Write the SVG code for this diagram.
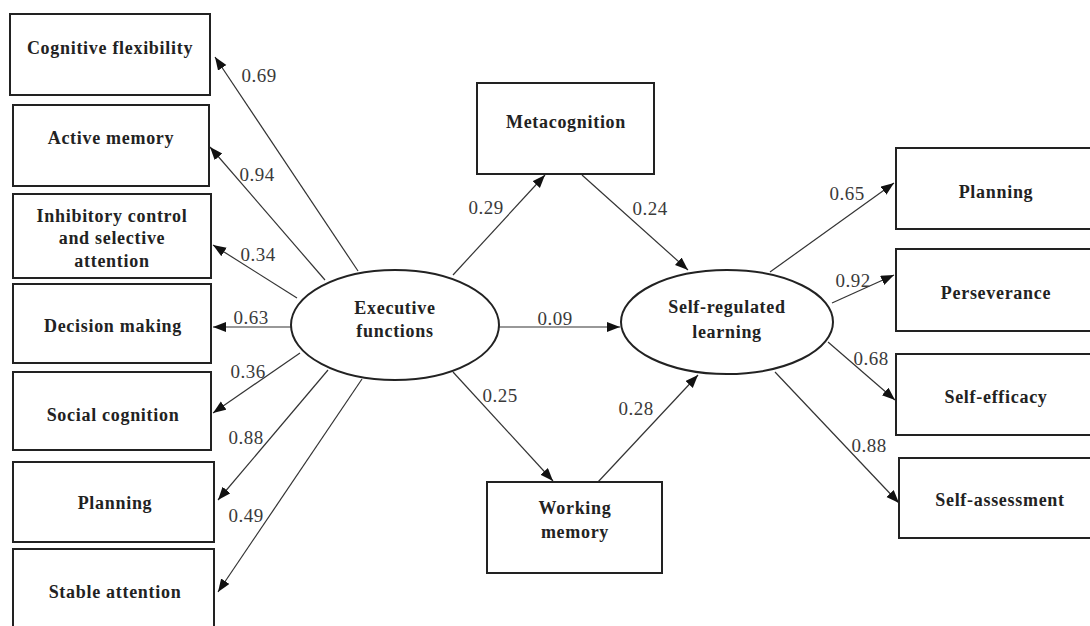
<svg xmlns="http://www.w3.org/2000/svg" width="1090" height="626" viewBox="0 0 1090 626">
<style>
.box{fill:#fff;stroke:#222;stroke-width:2}
.ell{fill:#fff;stroke:#222;stroke-width:2}
.t{font-family:"Liberation Serif","Times New Roman",serif;font-weight:bold;font-size:18px;letter-spacing:0.7px;fill:#222;text-anchor:middle}
.n{font-family:"Liberation Serif","Times New Roman",serif;font-size:19px;letter-spacing:0.5px;fill:#3a3a3a;text-anchor:middle}
.c{stroke:#333;stroke-width:1.2;fill:none;marker-end:url(#ah)}
</style>
<defs>
<marker id="ah" markerUnits="userSpaceOnUse" markerWidth="14" markerHeight="12" refX="13" refY="5" orient="auto">
<path d="M0,0 L13,5 L0,10 Z" fill="#111"/>
</marker>
</defs>
<rect width="1090" height="626" fill="#fff"/>
<g id="connectors">
<line class="c" x1="358" y1="271" x2="215" y2="57"/>
<line class="c" x1="325" y1="280" x2="210" y2="147"/>
<line class="c" x1="297" y1="298" x2="213" y2="245"/>
<line class="c" x1="291" y1="327" x2="213" y2="327"/>
<line class="c" x1="300" y1="353" x2="213" y2="413"/>
<line class="c" x1="328" y1="370" x2="218" y2="500"/>
<line class="c" x1="362" y1="379" x2="218" y2="592"/>
<line class="c" x1="453" y1="275" x2="545" y2="175"/>
<line class="c" x1="582" y1="175" x2="688" y2="270"/>
<line class="c" x1="499" y1="327" x2="620" y2="327"/>
<line class="c" x1="453" y1="372" x2="553" y2="481"/>
<line class="c" x1="598" y1="482" x2="698" y2="375"/>
<line class="c" x1="770" y1="272" x2="894" y2="183"/>
<line class="c" x1="832" y1="303" x2="894" y2="275"/>
<line class="c" x1="828" y1="342" x2="895" y2="400"/>
<line class="c" x1="775" y1="372" x2="899" y2="503"/>
<text class="n" x="259" y="82">0.69</text>
<text class="n" x="257" y="181">0.94</text>
<text class="n" x="258" y="261">0.34</text>
<text class="n" x="251" y="324">0.63</text>
<text class="n" x="248" y="378">0.36</text>
<text class="n" x="246" y="444">0.88</text>
<text class="n" x="246" y="522">0.49</text>
<text class="n" x="486" y="214">0.29</text>
<text class="n" x="650" y="215">0.24</text>
<text class="n" x="555" y="325">0.09</text>
<text class="n" x="500" y="402">0.25</text>
<text class="n" x="636" y="415">0.28</text>
<text class="n" x="847" y="200">0.65</text>
<text class="n" x="853" y="287">0.92</text>
<text class="n" x="871" y="365">0.68</text>
<text class="n" x="869" y="452">0.88</text>
</g>
<g id="cognitive-flexibility"><rect class="box" x="10" y="14" width="200" height="81"/><text class="t" x="110" y="54">Cognitive flexibility</text></g>
<g id="active-memory"><rect class="box" x="13" y="105" width="196" height="81"/><text class="t" x="111" y="144">Active memory</text></g>
<g id="inhibitory-control"><rect class="box" x="13" y="194" width="198" height="84"/><text class="t" x="112" y="222">Inhibitory control</text><text class="t" x="112" y="244">and selective</text><text class="t" x="112" y="267">attention</text></g>
<g id="decision-making"><rect class="box" x="13" y="284" width="198" height="79"/><text class="t" x="113" y="332">Decision making</text></g>
<g id="social-cognition"><rect class="box" x="13" y="372" width="198" height="78"/><text class="t" x="113" y="421">Social cognition</text></g>
<g id="planning-left"><rect class="box" x="13" y="462" width="201" height="80"/><text class="t" x="115" y="509">Planning</text></g>
<g id="stable-attention"><rect class="box" x="13" y="549" width="201" height="90"/><text class="t" x="115" y="598">Stable attention</text></g>
<g id="executive-functions"><ellipse class="ell" cx="395" cy="325" rx="104" ry="55"/><text class="t" x="395" y="314">Executive</text><text class="t" x="395" y="337">functions</text></g>
<g id="metacognition"><rect class="box" x="477" y="83" width="177" height="91"/><text class="t" x="566" y="128">Metacognition</text></g>
<g id="working-memory"><rect class="box" x="487" y="482" width="175" height="91"/><text class="t" x="575" y="514">Working</text><text class="t" x="575" y="538">memory</text></g>
<g id="self-regulated-learning"><ellipse class="ell" cx="727" cy="322" rx="106" ry="52"/><text class="t" x="727" y="313">Self-regulated</text><text class="t" x="727" y="338">learning</text></g>
<g id="planning-right"><rect class="box" x="896" y="148" width="200" height="81"/><text class="t" x="996" y="198">Planning</text></g>
<g id="perseverance"><rect class="box" x="896" y="249" width="200" height="82"/><text class="t" x="996" y="299">Perseverance</text></g>
<g id="self-efficacy"><rect class="box" x="896" y="354" width="200" height="81"/><text class="t" x="996" y="403">Self-efficacy</text></g>
<g id="self-assessment"><rect class="box" x="899" y="458" width="200" height="80"/><text class="t" x="1000" y="506">Self-assessment</text></g>
</svg>
